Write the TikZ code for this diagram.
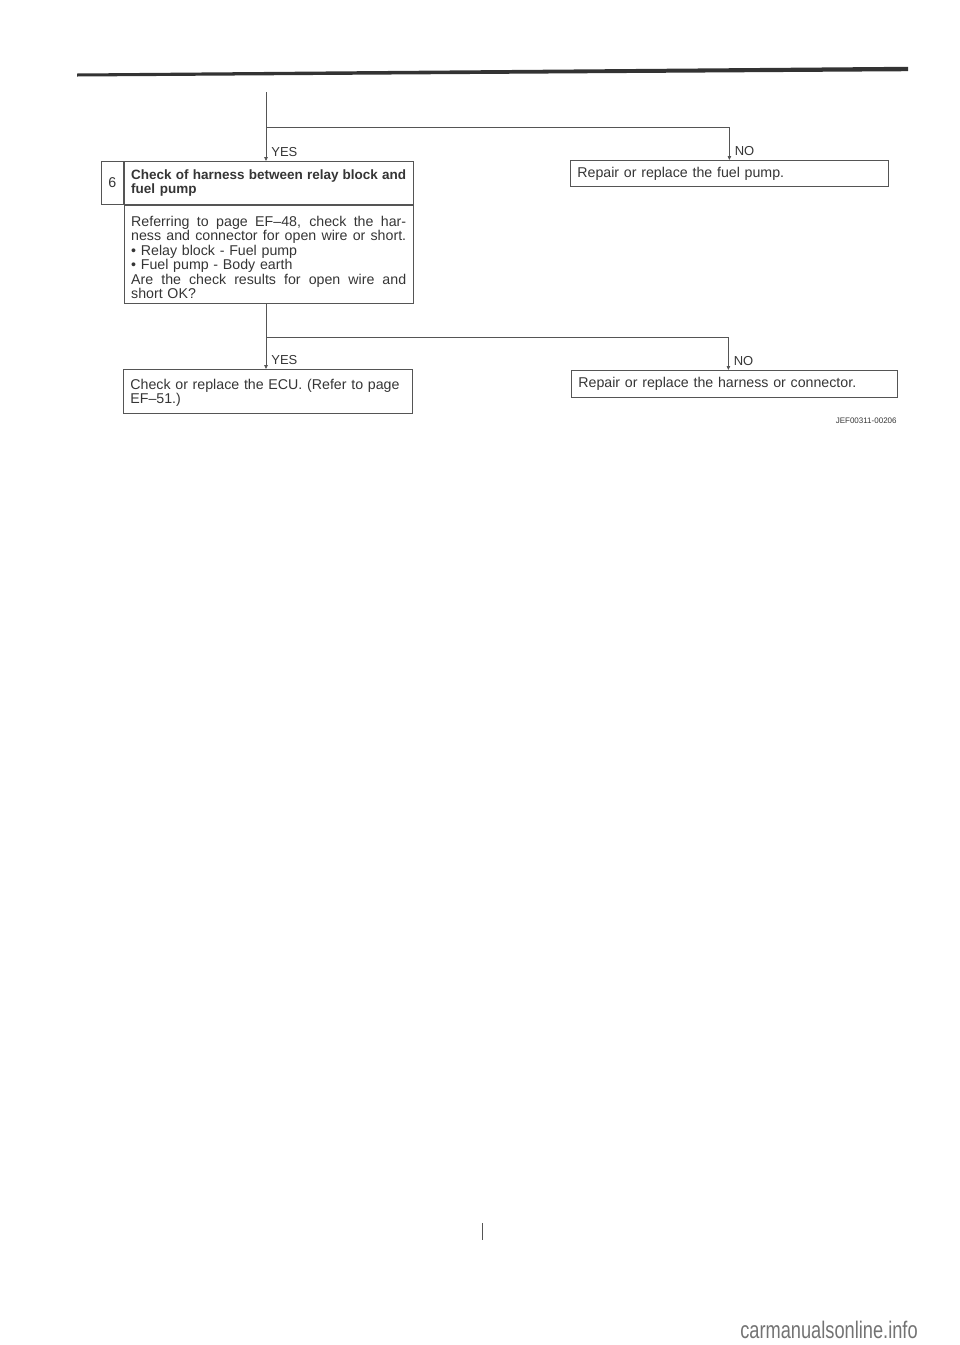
\documentclass[tikz,border=0pt]{standalone}
\usepackage{fontspec}
\setmainfont{Liberation Sans}
\usetikzlibrary{arrows.meta,positioning}

\definecolor{inkgray}{HTML}{353535}
\definecolor{linegray}{HTML}{555555}

% one justified line of a 275pt wide box
\newcommand{\spreadline}[1]{{\spaceskip=0pt\xspaceskip=0pt\makebox[275pt][s]{#1}}}

\begin{document}
\begin{tikzpicture}[
    x = 1pt, y = -1pt, % page pixels, origin top left
    > = {Triangle[length=4pt,width=3.5pt]}, % arrow head style
    line width = 0.8pt, % line style
    color = linegray
    ]

    \tikzset{
    box/.style = {
        draw = linegray,
        text = inkgray,
        rectangle,
        inner sep = 0pt,
        inner xsep = 7pt,
        align = left,
        anchor = north west,
        font = \fontsize{14.2}{14.5}\selectfont
        },
    answer/.style = {
        text = inkgray,
        inner sep = 0pt,
        anchor = base west,
        xshift = 5pt,
        yshift = 5pt,
        font = \fontsize{13}{13}\selectfont
        }
    }

    \useasboundingbox (0,0) rectangle (960,1345);

    % page rule, a bit slanted and thicker to the right
    \fill[black!80] (77,73.5) -- (908,66.8) -- (908,71.2) -- (77,76.5) -- cycle;

    \node[box, minimum width = 22pt, minimum height = 43pt, inner xsep = 0pt, align = center] (num) at (101,161) {6};
    \node[box, minimum height = 43pt, text width = 275pt] (head) at (num.north east)
        {\fontsize{13.5}{15}\selectfont\bfseries\spreadline{Check of harness between relay block and}\\fuel pump};
    \node[box, minimum height = 98pt, text width = 275pt] (body) at (head.south west)
        {\rule{0pt}{16.5pt}\spreadline{Referring to page EF–48, check the har-}\\
         \spreadline{ness and connector for open wire or short.}\\
         \textbullet\ Relay block - Fuel pump\\
         \textbullet\ Fuel pump - Body earth\\
         \spreadline{Are the check results for open wire and}\\
         short OK?};
    \node[box, minimum height = 26pt, text width = 304pt] (fuelpump) at (570,160) {Repair or replace the fuel pump.};
    \node[box, minimum height = 44pt, text width = 275pt] (ecu) at (123,369) {\rule{0pt}{13pt}Check or replace the ECU. (Refer to page\\EF–51.)};
    \node[box, minimum height = 27pt, text width = 312pt] (harness) at (571,370) {Repair or replace the harness or connector.};

    \coordinate (start) at (266,92);
    \coordinate (fork1) at (266,127);
    \coordinate (fork2) at (266,337);

    \draw (start) -- (fork1);
    \draw[->] (fork1) -- (fork1 |- head.north) node[answer] {YES};
    \draw[->] (fork1) -| (fuelpump.north) node[answer] {NO};

    \draw (fork2 |- body.south) -- (fork2);
    \draw[->] (fork2) -- (fork2 |- ecu.north) node[answer] {YES};
    \draw[->] (fork2) -| ([xshift = -6pt]harness.north) node[answer] {NO};

    \node[anchor = base east, inner sep = 0pt, text = inkgray, font = \fontsize{8}{8}\selectfont] (figid) at (897,423) {JEF00311-00206};

    \draw[line width = 0.6pt] (482,1223) -- (482,1240);
    \node[anchor = base east, inner sep = 0pt, text = black!55, xscale = 0.76, font = \fontsize{24}{24}\selectfont] (site) at (918,1338) {carmanualsonline.info};
\end{tikzpicture}
\end{document}
